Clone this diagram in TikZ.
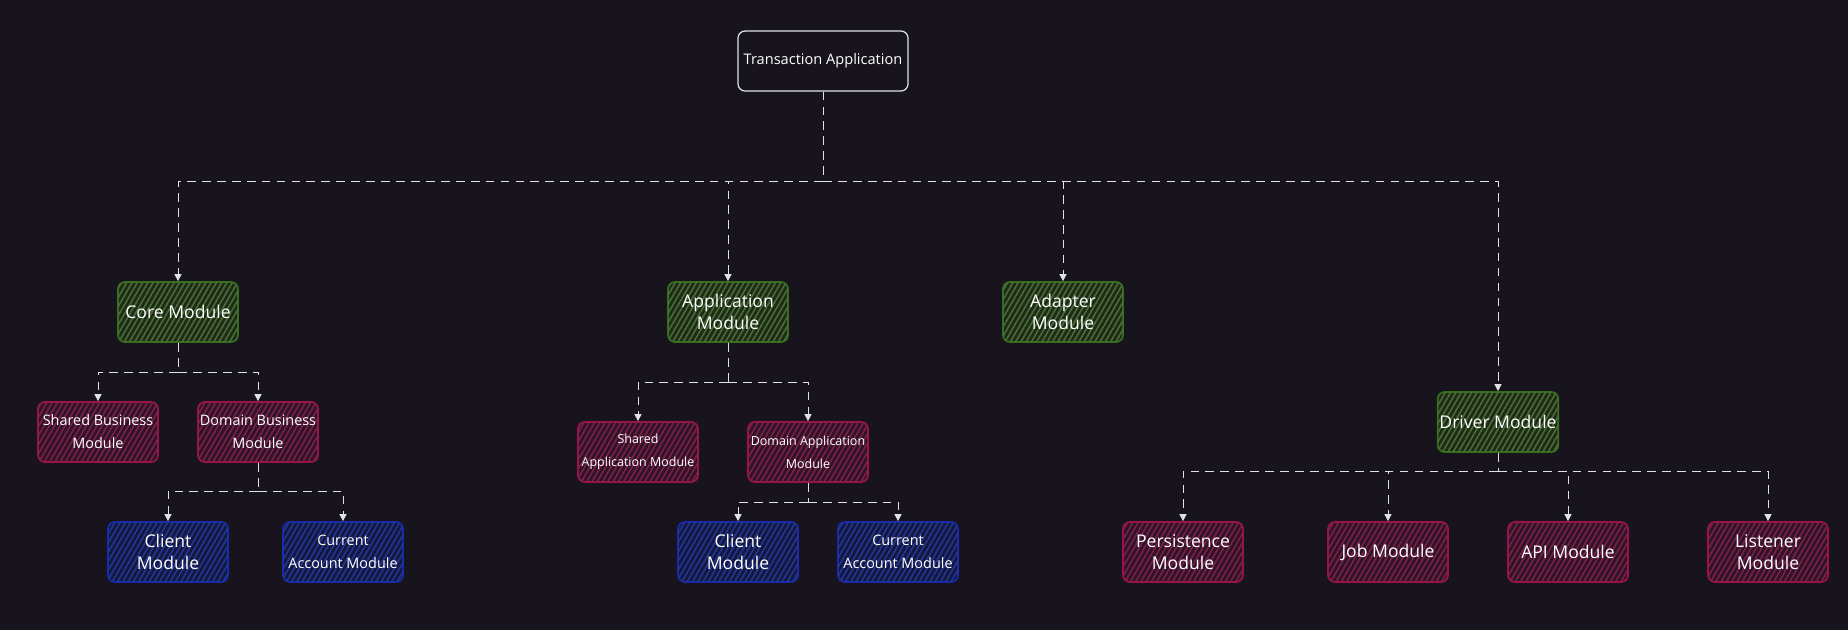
\documentclass[tikz,border=0pt]{standalone}
\usepackage{fontspec}
\setmainfont{Open Sans}
\usetikzlibrary{arrows.meta,patterns.meta}

\definecolor{bg}{RGB}{24,20,29}
\definecolor{linkcol}{RGB}{225,225,228}
\definecolor{greenline}{RGB}{52,112,28}
\definecolor{greenfill}{RGB}{28,44,22}
\definecolor{greenhatch}{RGB}{76,108,56}
\definecolor{redline}{RGB}{160,18,70}
\definecolor{redfill}{RGB}{48,20,38}
\definecolor{redhatch}{RGB}{122,32,76}
\definecolor{blueline}{RGB}{22,42,175}
\definecolor{bluefill}{RGB}{20,24,62}
\definecolor{bluehatch}{RGB}{36,54,148}

\begin{document}
\begin{tikzpicture}[x=0.02cm, y=-0.02cm]
	\tikzstyle{module}=[rectangle,rounded corners=4pt,minimum width=2.4cm,minimum height=1.2cm,inner sep=1pt,align=center,text=white,line width=1pt]
	\tikzstyle{big}=[font=\fontsize{10}{12.5}\selectfont]
	\tikzstyle{small}=[font=\fontsize{8.2}{13}\selectfont]
	\tikzstyle{tiny}=[font=\fontsize{7.1}{13}\selectfont]
	\tikzstyle{greenbox}=[module,draw=greenline,fill=greenfill,postaction={pattern={Lines[angle=60,distance=2.6pt,line width=0.9pt]},pattern color=greenhatch}]
	\tikzstyle{redbox}=[module,draw=redline,fill=redfill,postaction={pattern={Lines[angle=60,distance=2.6pt,line width=0.9pt]},pattern color=redhatch}]
	\tikzstyle{bluebox}=[module,draw=blueline,fill=bluefill,postaction={pattern={Lines[angle=60,distance=2.6pt,line width=0.9pt]},pattern color=bluehatch}]
	\tikzstyle{link}=[draw=linkcol,line width=0.55pt,dash pattern=on 5pt off 3.5pt,-{Triangle[length=4pt,width=4pt]}]
	\tikzstyle{trunk}=[draw=linkcol,line width=0.55pt,dash pattern=on 5pt off 3.5pt]

	\fill[bg] (0,0) rectangle (1848,630);
	\useasboundingbox (0,0) rectangle (1848,630);

	\node [module,draw=linkcol,line width=0.7pt,minimum width=3.4cm,font=\fontsize{8.3}{10}\selectfont] (app) at (823,61) {Transaction Application};

	\node [greenbox,big] (core) at (178,312) {Core Module};
	\node [greenbox,big] (appmod) at (728,312) {Application\\Module};
	\node [greenbox,big] (adapter) at (1063,312) {Adapter\\Module};
	\node [greenbox,big] (driver) at (1498,422) {Driver Module};

	\node [redbox,small] (sharedbiz) at (98,432) {Shared Business\\Module};
	\node [redbox,small] (domainbiz) at (258,432) {Domain Business\\Module};
	\node [redbox,tiny] (sharedapp) at (638,452) {Shared\\Application Module};
	\node [redbox,tiny] (domainapp) at (808,452) {Domain Application\\Module};

	\node [bluebox,big] (client1) at (168,552) {Client\\Module};
	\node [bluebox,small] (account1) at (343,552) {Current\\Account Module};
	\node [bluebox,big] (client2) at (738,552) {Client\\Module};
	\node [bluebox,small] (account2) at (898,552) {Current\\Account Module};

	\node [redbox,big] (persist) at (1183,552) {Persistence\\Module};
	\node [redbox,big] (job) at (1388,552) {Job Module};
	\node [redbox,big] (api) at (1568,552) {API Module};
	\node [redbox,big] (listener) at (1768,552) {Listener\\Module};

	% junctions
	\coordinate (j0) at (823,181);
	\coordinate (j1) at (178,372);
	\coordinate (j2) at (258,491);
	\coordinate (j3) at (728,382);
	\coordinate (j4) at (808,502);
	\coordinate (j5) at (1498,471);

	\draw [trunk] (app.south) -- (j0);
	\draw [link] (j0) -| (core.north);
	\draw [link] (j0) -| (appmod.north);
	\draw [link] (j0) -| (adapter.north);
	\draw [link] (j0) -| (driver.north);

	\draw [trunk] (core.south) -- (j1);
	\draw [link] (j1) -| (sharedbiz.north);
	\draw [link] (j1) -| (domainbiz.north);

	\draw [trunk] (domainbiz.south) -- (j2);
	\draw [link] (j2) -| (client1.north);
	\draw [link] (j2) -| (account1.north);

	\draw [trunk] (appmod.south) -- (j3);
	\draw [link] (j3) -| (sharedapp.north);
	\draw [link] (j3) -| (domainapp.north);

	\draw [trunk] (domainapp.south) -- (j4);
	\draw [link] (j4) -| (client2.north);
	\draw [link] (j4) -| (account2.north);

	\draw [trunk] (driver.south) -- (j5);
	\draw [link] (j5) -| (persist.north);
	\draw [link] (j5) -| (job.north);
	\draw [link] (j5) -| (api.north);
	\draw [link] (j5) -| (listener.north);
\end{tikzpicture}
\end{document}
